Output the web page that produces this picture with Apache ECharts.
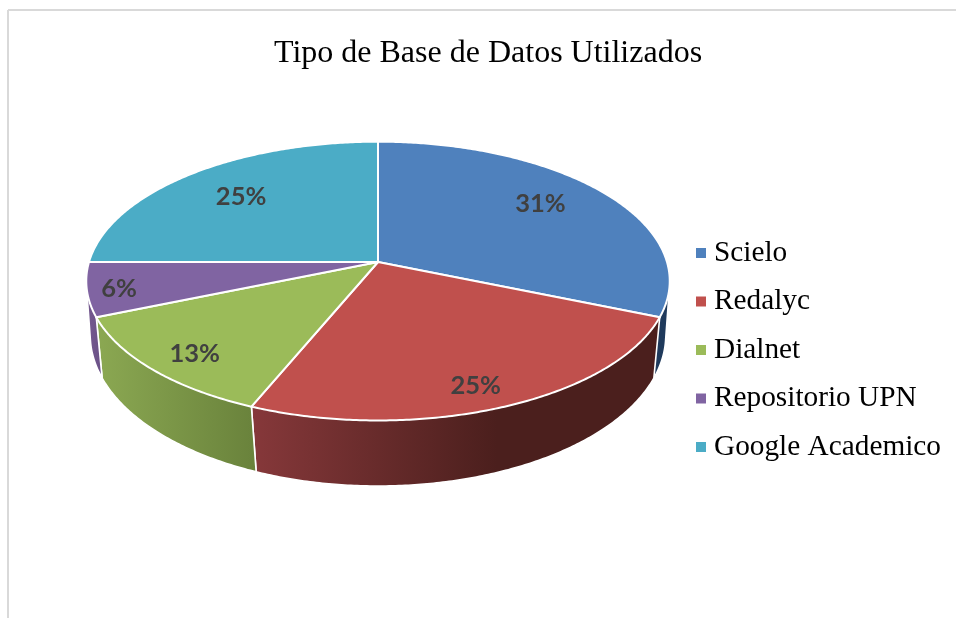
<!DOCTYPE html>
<html>
<head>
<meta charset="utf-8">
<title>Tipo de Base de Datos Utilizados</title>
<script src="https://cdn.jsdelivr.net/npm/echarts@6/dist/echarts.min.js"></script>
<style>
  html, body { margin: 0; padding: 0; background: #fff; }
  #chart { width: 956px; height: 618px; }
</style>
</head>
<body>
<div id="chart"></div>
<script>
const categories = ['Scielo', 'Redalyc', 'Dialnet', 'Repositorio UPN', 'Google Academico']
const shares = [31.25, 25, 12.5, 6.25, 25]

const colors = ['#4f81bd', '#c0504d', '#9bbb59', '#8064a2', '#4bacc6']

// horizontal shading of the pie's rim: [x from, x to, stops]
// the last slice has no rim, it is all behind the disc
const rimShades = [
  [640, 670, [[0, '#1f3a5c'], [1, '#1f3a5c']]],
  [252, 660, [[0, '#86383a'], [0.6, '#4b1f1d'], [1, '#4b1f1d']]],
  [97, 252, [[0, '#8ba852'], [1, '#6a833c']]],
  [87, 101, [[0, '#75598f'], [1, '#6a5187']]],
  null
]

// nudges of the percent labels from their default spot inside the slice
const labelNudges = [[-8, -4], [6, 19], [-18, 14], [-42, 6], [6, 2]]

// tilted disc with perspective: top face and the lower edge of the rim
const topFace = { cx: 378, cy: 262, a: 289, b: 136.8, k: -0.1367 }
const lowFace = { cx: 378, cy: 318.6, a: 286, b: 149, k: -0.11 }

const project = (face, theta, r) => {
  const u = Math.sin(theta) * r
  const v = -Math.cos(theta) * r
  const den = 1 + face.k * v
  return [face.cx + face.a * u / den, face.cy + face.b * v / den]
}

const arcPoints = (face, from, to) => {
  const steps = Math.max(2, Math.ceil((to - from) / 0.01))
  const pts = []
  for (let i = 0; i <= steps; i++) {
    pts.push(project(face, from + (to - from) * i / steps, 1))
  }
  return pts
}

// the rim of a slice is the hull of its upper and lower arcs
const convexHull = (points) => {
  const pts = points.slice().sort((p, q) => p[0] - q[0] || p[1] - q[1])
  const cross = (o, a, b) => (a[0] - o[0]) * (b[1] - o[1]) - (a[1] - o[1]) * (b[0] - o[0])
  const half = (list) => {
    const out = []
    list.forEach(p => {
      while (out.length >= 2 && cross(out[out.length - 2], out[out.length - 1], p) <= 0) out.pop()
      out.push(p)
    })
    out.pop()
    return out
  }
  return half(pts).concat(half(pts.slice().reverse()))
}

const total = shares.reduce((a, b) => a + b, 0)

const renderSlice = (index) => (params, api) => {
  const start = api.value(0) / total * Math.PI * 2
  const end = start + api.value(1) / total * Math.PI * 2
  const mid = (start + end) / 2

  const topArc = arcPoints(topFace, start, end)
  const lowArc = arcPoints(lowFace, start, end)
  const labelAt = project(topFace, mid, 0.75)

  const children = [
    {
      type: 'polygon',
      z2: 10,
      shape: { points: [[topFace.cx, topFace.cy]].concat(topArc) },
      style: { fill: colors[index], stroke: '#fff', lineWidth: 2, lineJoin: 'round' }
    },
    {
      type: 'text',
      z2: 20,
      x: labelAt[0] + labelNudges[index][0],
      y: labelAt[1] + labelNudges[index][1],
      style: {
        text: Math.round(api.value(1) / total * 100) + '%',
        fill: '#404040',
        font: 'bold 25.5px Lato',
        align: 'center',
        verticalAlign: 'middle'
      }
    }
  ]

  if (rimShades[index]) {
    const [x0, x1, stops] = rimShades[index]
    children.unshift({
      type: 'polygon',
      z2: 1,
      shape: { points: convexHull(topArc.concat(lowArc)) },
      style: {
        fill: {
          type: 'linear', x: x0, y: 0, x2: x1, y2: 0, global: true,
          colorStops: stops.map(s => ({ offset: s[0], color: s[1] }))
        },
        stroke: '#fff',
        lineWidth: 1.6
      }
    })
  }

  return { type: 'group', children }
}

let running = 0
const series = categories.map((name, i) => {
  const item = [running, shares[i]]
  running += shares[i]
  return {
    type: 'custom',
    name,
    coordinateSystem: 'none',
    silent: true,
    itemStyle: { color: colors[i] },
    renderItem: renderSlice(i),
    data: [item]
  }
})

const chart = echarts.init(document.getElementById('chart'))
chart.setOption({
  animation: false,
  backgroundColor: '#fff',
  title: {
    text: 'Tipo de Base de Datos Utilizados',
    left: 274,
    top: 38,
    padding: 0,
    textStyle: {
      fontFamily: 'Liberation Serif',
      fontWeight: 'normal',
      fontSize: 32,
      color: '#000'
    }
  },
  legend: {
    orient: 'vertical',
    left: 696,
    top: 238,
    padding: 0,
    itemWidth: 10,
    itemHeight: 10,
    itemGap: 18.5,
    icon: 'rect',
    selectedMode: false,
    data: categories,
    textStyle: {
      fontFamily: 'Liberation Serif',
      fontSize: 29.3,
      lineHeight: 30,
      color: '#000',
      padding: [0, 0, 0, 3]
    }
  },
  graphic: [
    { type: 'line', shape: { x1: 8, y1: 10, x2: 956, y2: 10 }, style: { stroke: '#d9d9d9', lineWidth: 2 } },
    { type: 'line', shape: { x1: 8, y1: 10, x2: 8, y2: 618 }, style: { stroke: '#d9d9d9', lineWidth: 2 } }
  ],
  series
})
</script>
</body>
</html>
